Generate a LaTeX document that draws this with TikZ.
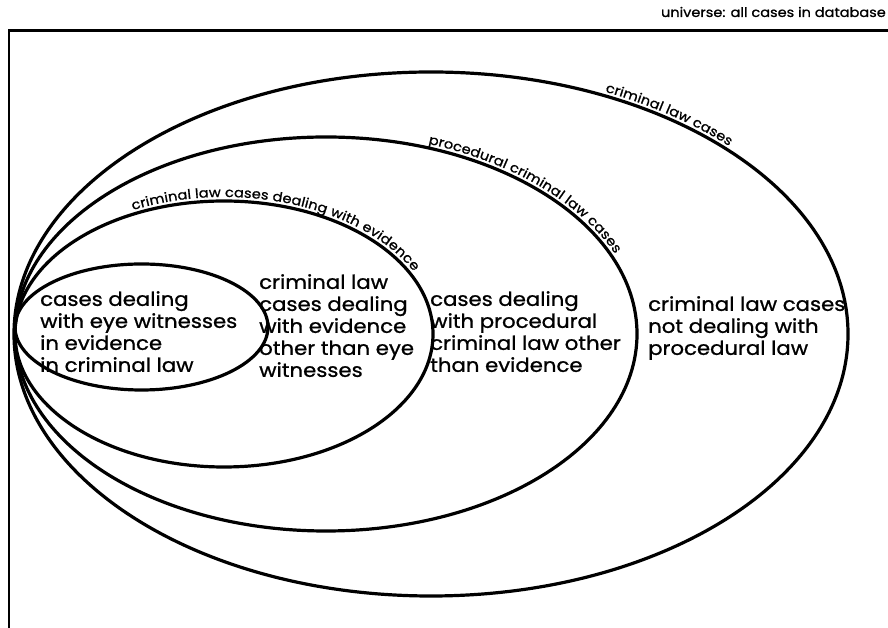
\documentclass[tikz,border=0pt]{standalone}
\usepackage{fontspec}
\setmainfont{Poppins}[FakeStretch=1.1, UprightFeatures={FakeBold=1}]
\usetikzlibrary{decorations.text}

\newcommand{\rimfont}{\fontsize{13.2}{13.2}\selectfont}

\begin{document}
\begin{tikzpicture}[x=1pt, y=1pt,
    setline/.style={line width=3.2pt},
    blurb/.style={anchor=north west, align=left, inner sep=0pt, font=\fontsize{19.3}{22}\selectfont},
    rim/.style={decorate, decoration={text along path, text align=left, raise=4pt, text={#1}}}
]
\useasboundingbox (0,0) rectangle (888,628);

\draw[line width=2pt] (9,0) -- (9,597);
\draw[line width=3pt] (8,597) -- (888,597);
\node[anchor=east, inner sep=0pt, font=\rimfont] (universe) at (886,616) {universe: all cases in database};

\coordinate (cAll) at (431,294);
\coordinate (cProc) at (326,294);
\coordinate (cEvid) at (224,294);
\coordinate (cEye) at (141.5,301);

\draw[setline] (cAll) ellipse [x radius=417pt, y radius=262pt];
\draw[setline] (cProc) ellipse [x radius=311pt, y radius=197pt];
\draw[setline] (cEvid) ellipse [x radius=209pt, y radius=133pt];
\draw[setline] (cEye) ellipse [x radius=126.5pt, y radius=63pt];

\path[rim={|\rimfont|criminal law cases}] (cAll) ++(65.5:417 and 262) arc[start angle=65.5, end angle=5, x radius=417pt, y radius=262pt];
\path[rim={|\rimfont|procedural criminal law cases}] (cProc) ++(71:311 and 197) arc[start angle=71, end angle=0, x radius=311pt, y radius=197pt];
\path[rim={|\rimfont|criminal law cases dealing with evidence}] (cEvid) ++(115.5:209 and 133) arc[start angle=115.5, end angle=0, x radius=209pt, y radius=133pt];

\node[blurb] (eye) at (40,337) {cases dealing\\with eye witnesses\\in evidence\\in criminal law};
\node[blurb] (evid) at (259,354) {criminal law\\cases dealing\\with evidence\\other than eye\\witnesses};
\node[blurb] (proc) at (430,337) {cases dealing\\with procedural\\criminal law other\\than evidence};
\node[blurb] (rest) at (648,332) {criminal law cases\\not dealing with\\procedural law};
\end{tikzpicture}
\end{document}
